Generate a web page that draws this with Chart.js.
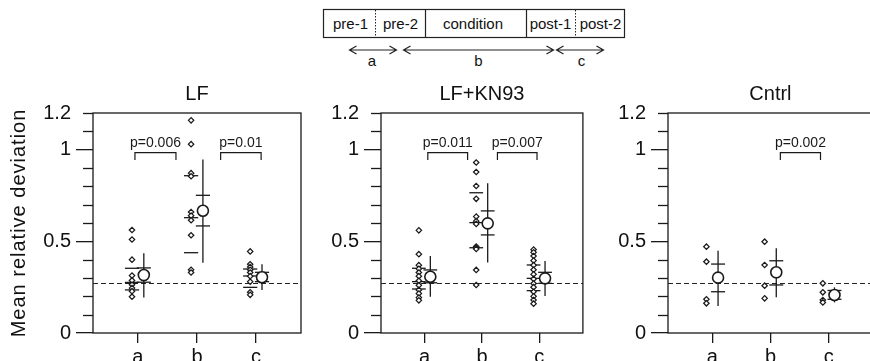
<!DOCTYPE html>
<html><head><meta charset="utf-8">
<script src="https://cdn.jsdelivr.net/npm/chart.js@4/dist/chart.umd.min.js"></script>
<style>
html,body{margin:0;padding:0;background:#fff;overflow:hidden;width:870px;height:361px;}
#wrap{position:relative;width:870px;height:361px;overflow:hidden;background:#fff;}
canvas{position:absolute;top:70px;}
#scheme{position:absolute;left:0;top:0;}
#scheme text{font-family:"Liberation Sans",Arial,sans-serif;font-size:15px;fill:#111;}
</style></head><body>
<div id="wrap">
<svg id="scheme" width="870" height="70" xmlns="http://www.w3.org/2000/svg">
  <rect x="323.5" y="9.5" width="301" height="28" fill="none" stroke="#222" stroke-width="1.2"/>
  <line x1="375.5" y1="10" x2="375.5" y2="37" stroke="#222" stroke-width="1" stroke-dasharray="1.5,1.5"/>
  <line x1="425.5" y1="10" x2="425.5" y2="37" stroke="#222" stroke-width="1.2"/>
  <line x1="526.5" y1="10" x2="526.5" y2="37" stroke="#222" stroke-width="1.2"/>
  <line x1="575.5" y1="10" x2="575.5" y2="37" stroke="#222" stroke-width="1" stroke-dasharray="1.5,1.5"/>
  <text x="350.5" y="28.5" text-anchor="middle">pre-1</text>
  <text x="400.5" y="28.5" text-anchor="middle">pre-2</text>
  <text x="473" y="28.5" text-anchor="middle">condition</text>
  <text x="550.5" y="28.5" text-anchor="middle">post-1</text>
  <text x="600.5" y="28.5" text-anchor="middle">post-2</text>
  <g stroke="#222" stroke-width="1.2" fill="none">
    <path d="M349.5 50 H396.5 M356.5 46 L349.5 50 L356.5 54 M389.5 46 L396.5 50 L389.5 54"/>
    <path d="M403.5 50 H553.5 M410.5 46 L403.5 50 L410.5 54 M546.5 46 L553.5 50 L546.5 54"/>
    <path d="M556.5 50 H603.5 M563.5 46 L556.5 50 L563.5 54 M596.5 46 L603.5 50 L596.5 54"/>
  </g>
  <text x="372" y="66" text-anchor="middle">a</text>
  <text x="478.5" y="66" text-anchor="middle">b</text>
  <text x="581.5" y="66" text-anchor="middle">c</text>
</svg>
<canvas id="c0" width="310" height="291" style="left:0px;width:310px;height:291px"></canvas>
<canvas id="c1" width="280" height="291" style="left:310px;width:280px;height:291px"></canvas>
<canvas id="c2" width="290" height="291" style="left:590px;width:290px;height:291px"></canvas>
</div>
<script>
// ---------------- data ----------------
const categories = ['a', 'b', 'c'];
const panelTitles = ['LF', 'LF+KN93', 'Cntrl'];
const yAxisTitle = 'Mean relative deviation';
const yTickValues = [0, 0.1, 0.2, 0.3, 0.4, 0.5, 0.6, 0.7, 0.8, 0.9, 1, 1.1, 1.2];
const yTickLabels = ['0', '', '', '', '', '0.5', '', '', '', '', '1', '', '1.2'];
const yLongTicks = [0, 0.5, 1];
const referenceLevel = 0.27;

// LF panel
const lfPoints = [
  [0.562, 0.51, 0.40, 0.313, 0.287, 0.263, 0.245, 0.228, 0.198],
  [1.16, 1.03, 0.872, 0.855, 0.66, 0.64, 0.615, 0.533, 0.345, 0.33],
  [0.445, 0.375, 0.36, 0.345, 0.33, 0.31, 0.28, 0.222, 0.208]
];
const lfQuartiles = [[0.235, 0.276, 0.353], [0.438, 0.629, 0.858], [0.249, 0.311, 0.349]];
const lfMeans = [0.316, 0.667, 0.304];
const lfSD = [[0.193, 0.435], [0.383, 0.947], [0.235, 0.375]];
const lfSEM = [[0.277, 0.355], [0.584, 0.751], [0.28, 0.331]];
const lfPValues = ['p=0.006', 'p=0.01'];

// LF+KN93 panel
const kn93Points = [
  [0.56, 0.43, 0.37, 0.35, 0.33, 0.31, 0.285, 0.26, 0.235, 0.215, 0.193, 0.178],
  [0.93, 0.878, 0.802, 0.732, 0.635, 0.61, 0.595, 0.472, 0.465, 0.458, 0.344, 0.262],
  [0.455, 0.44, 0.42, 0.395, 0.37, 0.345, 0.32, 0.295, 0.27, 0.25, 0.225, 0.2, 0.18, 0.16]
];
const kn93Quartiles = [[0.24, 0.28, 0.353], [0.465, 0.602, 0.765], [0.231, 0.298, 0.371]];
const kn93Means = [0.307, 0.598, 0.298];
const kn93SD = [[0.198, 0.42], [0.384, 0.817], [0.202, 0.393]];
const kn93SEM = [[0.274, 0.344], [0.535, 0.666], [0.271, 0.331]];
const kn93PValues = ['p=0.011', 'p=0.007'];

// Cntrl panel
const cntrlPoints = [
  [0.471, 0.389, 0.184, 0.162],
  [0.498, 0.371, 0.258, 0.189],
  [0.271, 0.222, 0.18, 0.167]
];
const cntrlQuartiles = [null, null, null];
const cntrlMeans = [0.302, 0.331, 0.207];
const cntrlSD = [[0.147, 0.449], [0.195, 0.462], [0.167, 0.249]];
const cntrlSEM = [[0.225, 0.376], [0.262, 0.394], [0.184, 0.232]];
const cntrlPValues = ['p=0.002'];

// ---------------- layout / style ----------------
const FONT = '"Liberation Sans", Arial, Helvetica, sans-serif';
const INK = '#1a1a1a';
const X_MIN = 0.24, X_MAX = 3.76;
const PT_DX = -0.1, MEAN_DX = 0.1, BAR_HALF = 0.12;
const BRACKET_TOP = 0.984, BRACKET_LEG = 0.944, P_TEXT_Y = 1.038;
const bracketSpans = [
  [[0.95, 1.644], [2.40, 3.085]],
  [[1.056, 1.75], [2.27, 2.96]],
  [[2.17, 2.86]]
];
const panelLayout = [
  {yWidth: 93, rightPad: 9, showTitle: true},
  {yWidth: 71, rightPad: 2, showTitle: false},
  {yWidth: 78, rightPad: 4, showTitle: false}
];

const panels = [
  {points: lfPoints, quart: lfQuartiles, means: lfMeans, sd: lfSD, sem: lfSEM, p: lfPValues},
  {points: kn93Points, quart: kn93Quartiles, means: kn93Means, sd: kn93SD, sem: kn93SEM, p: kn93PValues},
  {points: cntrlPoints, quart: cntrlQuartiles, means: cntrlMeans, sd: cntrlSD, sem: cntrlSEM, p: cntrlPValues}
];

function buildDatasets(p, pi) {
  const ds = [];
  ds.push({
    data: p.means.map((m, i) => ({x: i + 1 + MEAN_DX, y: m})),
    pointStyle: 'circle', pointRadius: 5.5, borderWidth: 1.6,
    borderColor: INK, backgroundColor: '#fff', showLine: false, order: 0
  });
  ds.push({
    data: p.points.flatMap((arr, i) => arr.map(v => ({x: i + 1 + PT_DX, y: v}))),
    pointStyle: 'rectRot', pointRadius: 2.7, borderWidth: 1.25,
    borderColor: INK, backgroundColor: '#fff', showLine: false, order: 1
  });
  const seg = (pts, extra) => ds.push(Object.assign({
    data: pts, showLine: true, pointRadius: 0, borderColor: INK,
    borderWidth: 1.3, backgroundColor: INK, order: 2, tension: 0
  }, extra || {}));
  p.sd.forEach(([lo, hi], i) => seg([{x: i + 1 + MEAN_DX, y: lo}, {x: i + 1 + MEAN_DX, y: hi}]));
  p.sem.forEach((pair, i) => pair.forEach(v =>
    seg([{x: i + 1 + MEAN_DX - BAR_HALF, y: v}, {x: i + 1 + MEAN_DX + BAR_HALF, y: v}])));
  p.quart.forEach((q, i) => { if (!q) return; q.forEach(v =>
    seg([{x: i + 1 + PT_DX - BAR_HALF, y: v}, {x: i + 1 + PT_DX + BAR_HALF, y: v}])); });
  bracketSpans[pi].forEach(([a, b]) => seg([
    {x: a, y: BRACKET_LEG}, {x: a, y: BRACKET_TOP}, {x: b, y: BRACKET_TOP}, {x: b, y: BRACKET_LEG}
  ], {borderWidth: 1.2}));
  seg([{x: X_MIN, y: referenceLevel}, {x: X_MAX, y: referenceLevel}],
      {borderDash: [5, 3], borderWidth: 1.2, order: 3, borderColor: '#222'});
  return ds;
}

const panelDecor = {
  id: 'panelDecor',
  beforeDraw(chart) {
    const s = chart.scales.y;
    if (s && !s._lsWrapped) {
      const orig = s.drawTitle;
      s.drawTitle = function () {
        const c = this.ctx; c.save();
        try { c.letterSpacing = '1px'; } catch (e) {}
        orig.call(this); c.restore();
      };
      s._lsWrapped = true;
    }
  },
  afterDatasetsDraw(chart) {
    const {ctx, chartArea: ca, scales: {x, y}} = chart;
    const pi = chart.options.plugins.panelDecor.index;
    ctx.save();
    ctx.strokeStyle = INK; ctx.lineWidth = 1.3;
    ctx.strokeRect(ca.left, ca.top, ca.right - ca.left, ca.bottom - ca.top);
    yTickValues.forEach(v => {
      if (yLongTicks.includes(v)) return;
      const py = Math.round(y.getPixelForValue(v)) + 0.5;
      ctx.beginPath(); ctx.moveTo(ca.left - 10, py); ctx.lineTo(ca.left, py); ctx.stroke();
    });
    ctx.fillStyle = INK;
    ctx.font = '14px ' + FONT;
    ctx.textAlign = 'center'; ctx.textBaseline = 'middle';
    panels[pi].p.forEach((label, k) => {
      const [a, b] = bracketSpans[pi][k];
      ctx.fillText(label, x.getPixelForValue((a + b) / 2), y.getPixelForValue(P_TEXT_Y));
    });
    ctx.restore();
  }
};

panels.forEach((p, pi) => {
  const L = panelLayout[pi];
  new Chart(document.getElementById('c' + pi), {
    type: 'scatter',
    data: {datasets: buildDatasets(p, pi)},
    options: {
      responsive: false, animation: false, events: [],
      layout: {padding: {left: 0, right: L.rightPad, top: 0, bottom: 0}},
      plugins: {
        legend: {display: false}, tooltip: {enabled: false},
        title: {display: true, text: panelTitles[pi], fullSize: false, color: '#111',
                font: {family: FONT, size: 20, weight: 'normal', lineHeight: 1.2},
                padding: {top: 12, bottom: 7}},
        panelDecor: {index: pi}
      },
      scales: {
        x: {
          type: 'linear', min: X_MIN, max: X_MAX,
          afterBuildTicks: s => { s.ticks = categories.map((c, i) => ({value: i + 1})); },
          afterFit: s => { s.height = 28; },
          ticks: {callback: v => categories[v - 1] || '', color: '#111', padding: 2,
                  autoSkip: false, maxRotation: 0, font: {family: FONT, size: 20}},
          grid: {drawOnChartArea: false, drawTicks: true, tickLength: 10,
                 color: INK, tickColor: INK, tickWidth: 1.3, lineWidth: 1.3},
          border: {display: false}
        },
        y: {
          type: 'linear', min: 0, max: 1.2,
          afterBuildTicks: s => { s.ticks = yTickValues.map(v => ({value: v})); },
          afterFit: s => { s.width = L.yWidth; },
          ticks: {
            callback: v => { const k = yTickValues.findIndex(t => Math.abs(t - v) < 1e-6); return k >= 0 ? yTickLabels[k] : ''; },
            color: '#111', padding: 5, autoSkip: false, font: {family: FONT, size: 20}
          },
          grid: {drawOnChartArea: false, drawTicks: true, tickLength: 17, tickWidth: 1.3, lineWidth: 1.3,
                 color: INK,
                 tickColor: c => yLongTicks.some(t => Math.abs(t - c.tick.value) < 1e-6) ? INK : 'rgba(0,0,0,0)'},
          border: {display: false},
          title: {display: L.showTitle, text: yAxisTitle, color: '#111',
                  font: {family: FONT, size: 20, lineHeight: 1.2}, padding: {top: 7, bottom: 0}}
        }
      }
    },
    plugins: [panelDecor]
  });
});
</script>
</body></html>
